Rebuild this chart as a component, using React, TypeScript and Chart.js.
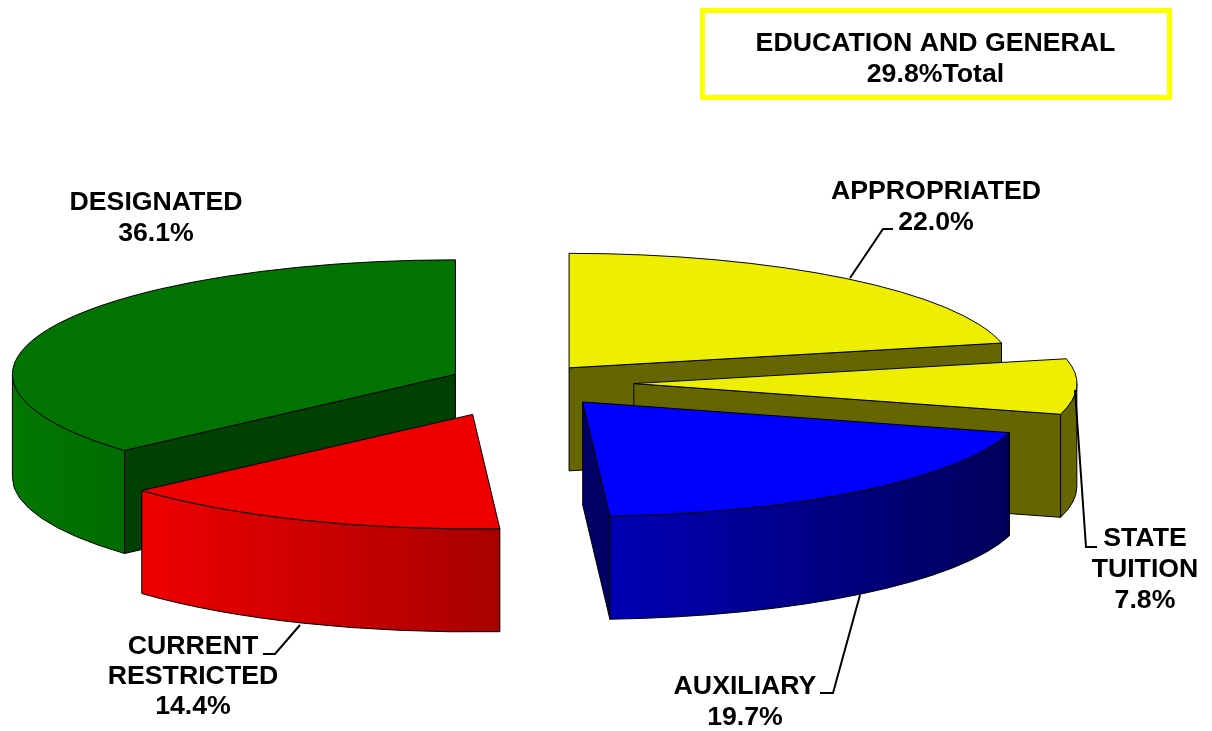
import React, { useEffect, useRef } from "react";
import { Chart, registerables } from "chart.js";

Chart.register(...registerables);

// ---- data (clockwise from twelve o'clock) ----
const categories = [["APPROPRIATED"], ["STATE", "TUITION"], ["AUXILIARY"], ["CURRENT", "RESTRICTED"], ["DESIGNATED"]];
const shares = [22.0, 7.8, 19.7, 14.4, 36.1];
const boxTitle = "EDUCATION AND GENERAL";
const boxValue = "29.8%Total";

// ---- styles ----
const topColors = ["#EEEE00", "#EEEE00", "#0000FF", "#EE0000", "#007300"];
const flatWallColors = ["#666600", "#666600", "#000066", "#AA0000", "#004000"];
const outerWallFrom = ["#666600", "#666600", "#0000B4", "#EE0000", "#007800"];
const outerWallTo = ["#666600", "#666600", "#00005A", "#A80000", "#006C00"];
const explode = [66, 107, 92, 133, 79];
const lift = [2, 1, 0, 0, 0];
const drawOrder = [4, 0, 1, 2, 3];
const RADIUS = 443;
const SQUASH = 0.2585;
const DEPTH = 103;
// the original 3D view foreshortens inner slice boundaries by about this many radians
const VIEW_SKEW = 0.03;
const FONT = "bold 26.7px 'Liberation Sans', Arial, sans-serif";
const labelAnchors = [
  { x: 936, y: 191.5, step: 31 },
  { x: 1145, y: 538.5, step: 31 },
  { x: 745, y: 686.5, step: 31 },
  { x: 193, y: 646.5, step: 30 },
  { x: 156, y: 202.5, step: 31 },
];
const leaders = [
  [[850, 278], [883, 229], [893, 229]],
  [[1075, 390], [1086, 547], [1097, 547]],
  [[860, 595], [833, 693], [820, 693]],
  [[300, 625], [275, 654], [263, 654]],
];

const skew = (t: number) =>
  t > -Math.PI / 2 + 1e-6 && t < (3 * Math.PI) / 2 - 1e-6 ? t - VIEW_SKEW : t;

const pie3d = {
  id: "pie3d",
  beforeDatasetDraw(chart: any) {
    const ctx: CanvasRenderingContext2D = chart.ctx;
    const arcs = chart.getDatasetMeta(0).data;
    for (const i of drawOrder) {
      const arc = arcs[i];
      const { startAngle: s0, endAngle: s1, circumference: sweep, outerRadius: R, x, y } = arc;
      const half = (s0 + s1) / 2;
      const t0 = skew(s0);
      const t1 = skew(s1);
      const dx = Math.cos(half) * explode[i];
      const dy = Math.sin(half) * explode[i] * SQUASH - lift[i];
      const ax = x + dx;
      const ay = y + dy;
      const ry = R * SQUASH;
      const px = (t: number) => ax + R * Math.cos(t);
      const py = (t: number) => ay + ry * Math.sin(t);
      ctx.save();
      ctx.lineWidth = 1;
      ctx.strokeStyle = "#000";
      ctx.lineJoin = "round";

      const flat = (t: number) => {
        ctx.beginPath();
        ctx.moveTo(ax, ay);
        ctx.lineTo(px(t), py(t));
        ctx.lineTo(px(t), py(t) + DEPTH);
        ctx.lineTo(ax, ay + DEPTH);
        ctx.closePath();
        ctx.fillStyle = flatWallColors[i];
        ctx.fill();
        ctx.stroke();
      };
      if (Math.cos(t0) < -1e-6) flat(t0);
      if (Math.cos(t1) > 1e-6) flat(t1);

      const a = Math.max(t0, 0);
      const b = Math.min(t1, Math.PI);
      if (b > a) {
        const g = ctx.createLinearGradient(px(b), 0, px(a), 0);
        g.addColorStop(0, outerWallFrom[i]);
        g.addColorStop(1, outerWallTo[i]);
        ctx.beginPath();
        ctx.ellipse(ax, ay, R, ry, 0, a, b);
        ctx.lineTo(px(b), py(b) + DEPTH);
        ctx.ellipse(ax, ay + DEPTH, R, ry, 0, b, a, true);
        ctx.closePath();
        ctx.fillStyle = g;
        ctx.fill();
        ctx.stroke();
      }

      // top face: the library's own arc element, exploded and squashed
      ctx.save();
      ctx.translate(ax, ay);
      ctx.scale(1, SQUASH);
      ctx.translate(-x, -y);
      arc.startAngle = t0;
      arc.endAngle = t1;
      arc.circumference = t1 - t0;
      arc.draw(ctx);
      arc.startAngle = s0;
      arc.endAngle = s1;
      arc.circumference = sweep;
      ctx.restore();

      ctx.beginPath();
      ctx.moveTo(ax, ay);
      ctx.ellipse(ax, ay, R, ry, 0, t0, t1);
      ctx.closePath();
      ctx.stroke();
      ctx.restore();
    }
    return false;
  },
  afterDraw(chart: any) {
    const ctx: CanvasRenderingContext2D = chart.ctx;
    ctx.save();
    ctx.strokeStyle = "#FFFF00";
    ctx.lineWidth = 5;
    ctx.strokeRect(702.5, 10.5, 467, 87);

    ctx.fillStyle = "#000";
    ctx.font = FONT;
    ctx.textAlign = "center";
    ctx.textBaseline = "middle";
    ctx.fillText(boxTitle, 935.5, 43.5);
    ctx.fillText(boxValue, 935.5, 74.5);

    categories.forEach((lines, i) => {
      const p = labelAnchors[i];
      [...lines, shares[i].toFixed(1) + "%"].forEach((text, j) => ctx.fillText(text, p.x, p.y + j * p.step));
    });

    ctx.strokeStyle = "#000";
    ctx.lineWidth = 2;
    for (const path of leaders) {
      ctx.beginPath();
      path.forEach(([x, y], j) => (j ? ctx.lineTo(x, y) : ctx.moveTo(x, y)));
      ctx.stroke();
    }
    ctx.restore();
  },
};

export default function App() {
  const ref = useRef<HTMLCanvasElement>(null);
  useEffect(() => {
    const chart = new Chart(ref.current!, {
      type: "pie",
      data: {
        labels: categories.map((c) => c.join(" ")),
        datasets: [
          {
            data: shares,
            backgroundColor: topColors,
            borderWidth: 0,
            clip: false,
          } as any,
        ],
      },
      options: {
        responsive: false,
        animation: false,
        events: [],
        radius: RADIUS,
        layout: { padding: { top: 35, right: 158 } },
        plugins: { legend: { display: false }, tooltip: { enabled: false }, title: { display: false } },
      } as any,
      plugins: [pie3d],
    });
    return () => chart.destroy();
  }, []);
  return (
    <div style={{ position: "fixed", left: 0, top: 0, background: "#fff" }}>
      <canvas ref={ref} width={1212} height={731} style={{ display: "block" }} />
    </div>
  );
}
